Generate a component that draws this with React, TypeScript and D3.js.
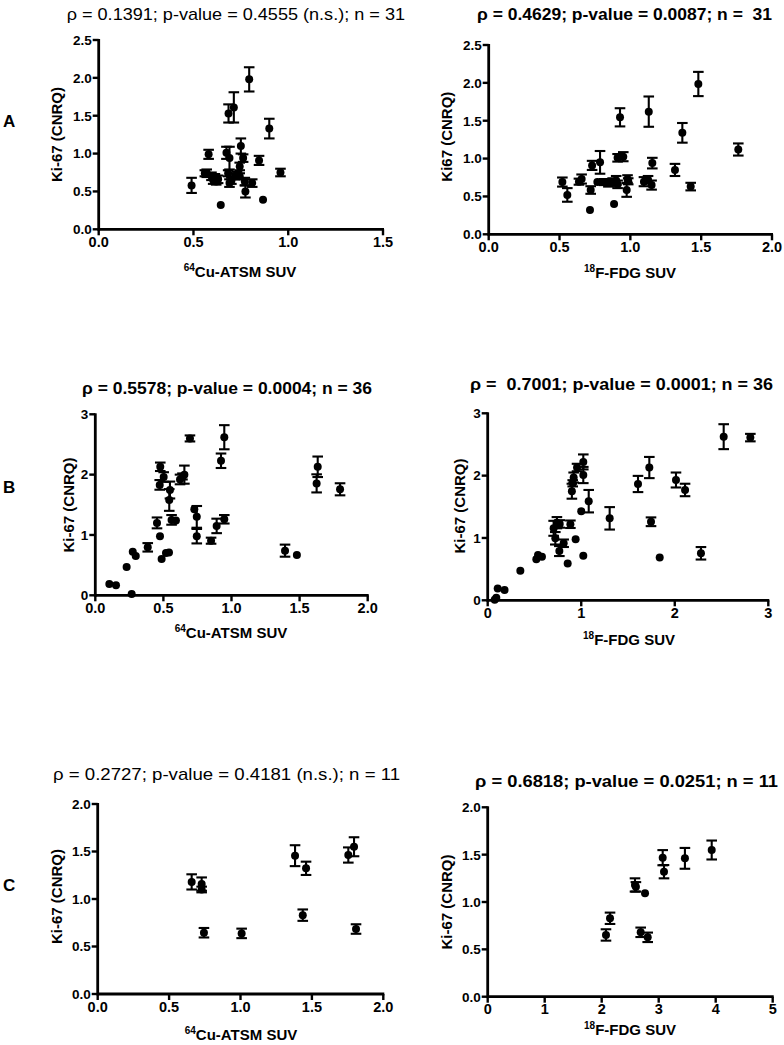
import React from "react";
import * as d3 from "d3";

// ---------- DATA ----------
// Panel A left: 64Cu-ATSM SUV vs Ki-67
const aCuX = [0.49, 0.58, 0.57, 0.595, 0.613, 0.63, 0.604, 0.644, 0.674, 0.69, 0.685, 0.713, 0.683, 0.69, 0.794, 0.75, 0.762, 0.744, 0.73, 0.744, 0.771, 0.774, 0.81, 0.867, 0.846, 0.90, 0.959, 0.56, 0.62, 0.70, 0.72];
const aCuY = [0.58, 0.99, 0.74, 0.70, 0.69, 0.66, 0.65, 0.32, 1.01, 0.94, 1.53, 1.61, 0.74, 0.61, 1.98, 1.10, 0.94, 0.83, 0.72, 0.70, 0.63, 0.50, 0.61, 0.39, 0.91, 1.33, 0.75, 0.74, 0.63, 0.64, 0.70];
const aCuErr = [0.10, 0.06, 0.05, 0.05, 0.04, 0.05, 0.05, 0, 0.08, 0.15, 0.12, 0.20, 0.04, 0.05, 0.16, 0.10, 0.05, 0.05, 0.04, 0.04, 0.05, 0.08, 0.05, 0, 0.06, 0.13, 0.05, 0.04, 0.04, 0.04, 0.04];

// Panel A right: 18F-FDG SUV vs Ki67
const aFdgX = [0.52, 0.555, 0.637, 0.656, 0.72, 0.73, 0.715, 0.767, 0.786, 0.814, 0.845, 0.875, 0.90, 0.91, 0.885, 0.927, 0.91, 0.95, 0.98, 0.974, 1.13, 1.096, 1.125, 1.155, 1.15, 1.315, 1.367, 1.426, 1.48, 1.762, 0.985];
const aFdgY = [0.69, 0.52, 0.695, 0.73, 0.585, 0.91, 0.32, 0.69, 0.95, 0.69, 0.68, 0.69, 0.71, 0.66, 0.40, 1.545, 1.01, 1.025, 0.73, 0.585, 1.62, 0.695, 0.72, 0.94, 0.65, 0.85, 1.34, 0.63, 1.985, 1.12, 0.70];
const aFdgErr = [0.06, 0.09, 0.04, 0.06, 0.05, 0.06, 0, 0, 0.15, 0.04, 0.05, 0.05, 0.06, 0.05, 0, 0.12, 0.05, 0.06, 0.05, 0.09, 0.20, 0.06, 0.05, 0.07, 0.06, 0.08, 0.13, 0.05, 0.16, 0.08, 0.04];

// Panel B left
const bCuX = [0.103, 0.152, 0.267, 0.23, 0.275, 0.297, 0.385, 0.453, 0.475, 0.487, 0.519, 0.541, 0.477, 0.473, 0.502, 0.548, 0.543, 0.56, 0.592, 0.622, 0.64, 0.654, 0.695, 0.727, 0.745, 0.745, 0.85, 0.891, 0.923, 0.947, 0.947, 1.393, 1.48, 1.633, 1.625, 1.797];
const bCuY = [0.187, 0.166, 0.02, 0.47, 0.72, 0.65, 0.795, 1.20, 0.98, 0.60, 0.70, 0.71, 2.13, 1.83, 1.96, 1.745, 1.58, 1.25, 1.24, 1.92, 1.97, 2.0, 2.60, 1.425, 1.30, 0.98, 0.905, 1.15, 2.23, 2.62, 1.26, 0.74, 0.67, 2.13, 1.855, 1.757];
const bCuErr = [0, 0, 0, 0, 0, 0, 0.07, 0.09, 0, 0, 0, 0, 0.07, 0.08, 0.08, 0.14, 0.18, 0.08, 0, 0.08, 0.05, 0.15, 0.05, 0, 0.18, 0.12, 0.05, 0.12, 0.12, 0.20, 0.07, 0.10, 0, 0.17, 0.15, 0.10];

// Panel B right
const bFdgX = [0.092, 0.107, 0.18, 0.075, 0.349, 0.52, 0.538, 0.58, 0.705, 0.723, 0.74, 0.77, 0.766, 0.812, 0.855, 0.884, 0.94, 0.90, 0.909, 0.919, 0.955, 1.0, 1.022, 1.022, 1.022, 1.08, 1.304, 1.607, 1.728, 1.746, 1.839, 2.013, 2.11, 2.28, 2.523, 2.808];
const bFdgY = [0.04, 0.19, 0.165, 0.01, 0.475, 0.66, 0.727, 0.70, 1.155, 0.995, 1.245, 1.225, 0.79, 0.915, 0.59, 1.22, 0.98, 1.75, 1.877, 1.97, 2.13, 1.43, 2.22, 2.01, 0.715, 1.59, 1.315, 1.866, 2.13, 1.26, 0.685, 1.93, 1.77, 0.754, 2.625, 2.61];
const bFdgErr = [0, 0, 0, 0, 0, 0, 0, 0, 0.12, 0.10, 0.09, 0.06, 0.08, 0.06, 0, 0.06, 0, 0.12, 0.05, 0.08, 0.06, 0, 0.12, 0.13, 0, 0.18, 0.18, 0.13, 0.17, 0.07, 0, 0.12, 0.10, 0.10, 0.20, 0.06];

// Panel C left
const cCuX = [0.658, 0.728, 0.728, 0.744, 1.008, 1.382, 1.459, 1.436, 1.755, 1.795, 1.809];
const cCuY = [1.18, 1.157, 1.10, 0.645, 0.638, 1.456, 1.323, 0.83, 1.463, 1.55, 0.684];
const cCuErr = [0.08, 0.07, 0.03, 0.05, 0.05, 0.11, 0.07, 0.06, 0.08, 0.10, 0.05];

// Panel C right
const cFdgX = [2.075, 2.146, 2.584, 2.60, 2.76, 2.684, 2.807, 3.07, 3.093, 3.46, 3.93];
const cFdgY = [0.652, 0.828, 1.18, 1.16, 1.092, 0.68, 0.627, 1.468, 1.32, 1.461, 1.549];
const cFdgErr = [0.06, 0.06, 0.07, 0.05, 0, 0.05, 0.05, 0.08, 0.07, 0.11, 0.10];

// Tick labels
const xTicksA1 = [0, 0.5, 1.0, 1.5];
const xTicks2 = [0, 0.5, 1.0, 1.5, 2.0];
const yTicks25 = [0, 0.5, 1.0, 1.5, 2.0, 2.5];
const yTicks3 = [0, 1, 2, 3];
const xTicks3 = [0, 1, 2, 3];
const yTicks2 = [0, 0.5, 1.0, 1.5, 2.0];
const xTicks5 = [0, 1, 2, 3, 4, 5];

const titles = [
  "ρ = 0.1391; p-value = 0.4555 (n.s.); n = 31",
  "ρ = 0.4629; p-value = 0.0087; n =  31",
  "ρ = 0.5578; p-value = 0.0004; n = 36",
  "ρ =  0.7001; p-value = 0.0001; n = 36",
  "ρ = 0.2727; p-value = 0.4181 (n.s.); n = 11",
  "ρ = 0.6818; p-value = 0.0251; n = 11",
];
const yLabels = ["Ki-67 (CNRQ)", "Ki67 (CNRQ)", "Ki-67 (CNRQ)", "Ki-67 (CNRQ)", "Ki-67 (CNRQ)", "Ki-67 (CNRQ)"];
const rowLetters = ["A", "B", "C"];

// ---------- LAYOUT ----------
const FONT = "'Liberation Sans', Arial, Helvetica, sans-serif";

type PanelCfg = {
  xs: number[]; ys: number[]; errs: number[];
  xMax: number; yMax: number; xTicks: number[]; yTicks: number[]; fmt: string; yfmt: string;
  left: number; right: number; top: number; bottom: number;
  title: string; titleBold: boolean; tx0: number; tx1: number; tBase: number;
  yLabel: string; ylx: number; yly: number;
  iso: string; elem: string; xlx: number; xlBase: number;
};

const panels: PanelCfg[] = [
  { xs: aCuX, ys: aCuY, errs: aCuErr, xMax: 1.5, yMax: 2.5, xTicks: xTicksA1, yTicks: yTicks25, fmt: ".1f", yfmt: ".1f",
    left: 98.7, right: 383, top: 40, bottom: 229.3,
    title: titles[0], titleBold: false, tx0: 66.7, tx1: 405, tBase: 20,
    yLabel: yLabels[0], ylx: 62, yly: 134.5, iso: "64", elem: "Cu-ATSM SUV", xlx: 240, xlBase: 277 },
  { xs: aFdgX, ys: aFdgY, errs: aFdgErr, xMax: 2.0, yMax: 2.5, xTicks: xTicks2, yTicks: yTicks25, fmt: ".1f", yfmt: ".1f",
    left: 488.7, right: 772, top: 45, bottom: 234.3,
    title: titles[1], titleBold: true, tx0: 477, tx1: 772, tBase: 20,
    yLabel: yLabels[1], ylx: 452, yly: 136.7, iso: "18", elem: "F-FDG SUV", xlx: 630, xlBase: 278 },
  { xs: bCuX, ys: bCuY, errs: bCuErr, xMax: 2.0, yMax: 3, xTicks: xTicks2, yTicks: yTicks3, fmt: ".1f", yfmt: "d",
    left: 95.3, right: 367.7, top: 414.3, bottom: 595.3,
    title: titles[2], titleBold: true, tx0: 82, tx1: 372, tBase: 394,
    yLabel: yLabels[2], ylx: 74, yly: 505, iso: "64", elem: "Cu-ATSM SUV", xlx: 231, xlBase: 638 },
  { xs: bFdgX, ys: bFdgY, errs: bFdgErr, xMax: 3, yMax: 3, xTicks: xTicks3, yTicks: yTicks3, fmt: "d", yfmt: "d",
    left: 487.7, right: 768.3, top: 413.3, bottom: 600.3,
    title: titles[3], titleBold: true, tx0: 470, tx1: 773, tBase: 390,
    yLabel: yLabels[3], ylx: 465, yly: 506, iso: "18", elem: "F-FDG SUV", xlx: 629, xlBase: 645 },
  { xs: cCuX, ys: cCuY, errs: cCuErr, xMax: 2.0, yMax: 2.0, xTicks: xTicks2, yTicks: yTicks2, fmt: ".1f", yfmt: ".1f",
    left: 97.7, right: 383.3, top: 804, bottom: 994,
    title: titles[4], titleBold: false, tx0: 53, tx1: 400, tBase: 780,
    yLabel: yLabels[4], ylx: 62, yly: 896.5, iso: "64", elem: "Cu-ATSM SUV", xlx: 241, xlBase: 1040 },
  { xs: cFdgX, ys: cFdgY, errs: cFdgErr, xMax: 5, yMax: 2.0, xTicks: xTicks5, yTicks: yTicks2, fmt: "d", yfmt: ".1f",
    left: 487.7, right: 772.7, top: 807.3, bottom: 996.7,
    title: titles[5], titleBold: true, tx0: 475, tx1: 778, tBase: 787,
    yLabel: yLabels[5], ylx: 452, yly: 902, iso: "18", elem: "F-FDG SUV", xlx: 630, xlBase: 1035 },
];

const letterPos = [127, 493, 891];

function Panel({ p }: { p: PanelCfg }) {
  const x = d3.scaleLinear().domain([0, p.xMax]).range([p.left, p.right]);
  const y = d3.scaleLinear().domain([0, p.yMax]).range([p.bottom, p.top]);
  const fx = d3.format(p.fmt);
  const fy = d3.format(p.yfmt);
  const cap = 5.3;
  return (
    <g>
      <text x={p.tx0} y={p.tBase} fontFamily={FONT} fontSize={17} fontWeight={p.titleBold ? "bold" : "normal"}
        textLength={p.tx1 - p.tx0} lengthAdjust="spacingAndGlyphs" style={{ whiteSpace: "pre" }} fill="#000">
        {p.title}
      </text>
      {/* axes */}
      <line x1={p.left} x2={p.right + 1} y1={p.bottom} y2={p.bottom} stroke="#000" strokeWidth={2.8} />
      <line x1={p.left} x2={p.left} y1={p.top - 1} y2={p.bottom + 1.4} stroke="#000" strokeWidth={2.8} />
      {p.xTicks.map((t) => (
        <g key={"xt" + t}>
          <line x1={x(t)} x2={x(t)} y1={p.bottom} y2={p.bottom + 6} stroke="#000" strokeWidth={2.4} />
          <text x={x(t)} y={p.bottom + 17.5} textAnchor="middle" fontFamily={FONT} fontWeight="bold" fontSize={14.5} fill="#000">
            {fx(t)}
          </text>
        </g>
      ))}
      {p.yTicks.map((t) => (
        <g key={"yt" + t}>
          <line x1={p.left - 6} x2={p.left} y1={y(t)} y2={y(t)} stroke="#000" strokeWidth={2.4} />
          <text x={p.left - 7} y={y(t)} dy="0.36em" textAnchor="end" fontFamily={FONT} fontWeight="bold" fontSize={13.5} fill="#000">
            {fy(t)}
          </text>
        </g>
      ))}
      {/* y label */}
      <text transform={`translate(${p.ylx},${p.yly}) rotate(-90)`} textAnchor="middle" fontFamily={FONT}
        fontWeight="bold" fontSize={15} fill="#000">
        {p.yLabel}
      </text>
      {/* x label */}
      <text x={p.xlx} y={p.xlBase} textAnchor="middle" fontFamily={FONT} fontWeight="bold" fontSize={15} fill="#000">
        <tspan fontSize={10} dy={-6}>{p.iso}</tspan>
        <tspan dy={6}>{p.elem}</tspan>
      </text>
      {/* points */}
      {p.xs.map((xv, i) => {
        const cx = x(xv);
        const cy = y(p.ys[i]);
        const e = p.errs[i];
        return (
          <g key={"pt" + i}>
            {e > 0 && (
              <g stroke="#000" strokeWidth={2.1}>
                <line x1={cx} x2={cx} y1={y(p.ys[i] + e)} y2={y(p.ys[i] - e)} />
                <line x1={cx - cap} x2={cx + cap} y1={y(p.ys[i] + e)} y2={y(p.ys[i] + e)} />
                <line x1={cx - cap} x2={cx + cap} y1={y(p.ys[i] - e)} y2={y(p.ys[i] - e)} />
              </g>
            )}
            <circle cx={cx} cy={cy} r={4} fill="#000" />
          </g>
        );
      })}
    </g>
  );
}

export default function App() {
  return (
    <svg width={784} height={1045} style={{ position: "absolute", left: 0, top: 0, background: "#fff" }}>
      <rect x={0} y={0} width={784} height={1045} fill="#fff" />
      {rowLetters.map((l, i) => (
        <text key={l} x={3} y={letterPos[i]} fontFamily={FONT} fontWeight="bold" fontSize={17} fill="#000">
          {l}
        </text>
      ))}
      {panels.map((p, i) => (
        <Panel key={i} p={p} />
      ))}
    </svg>
  );
}
